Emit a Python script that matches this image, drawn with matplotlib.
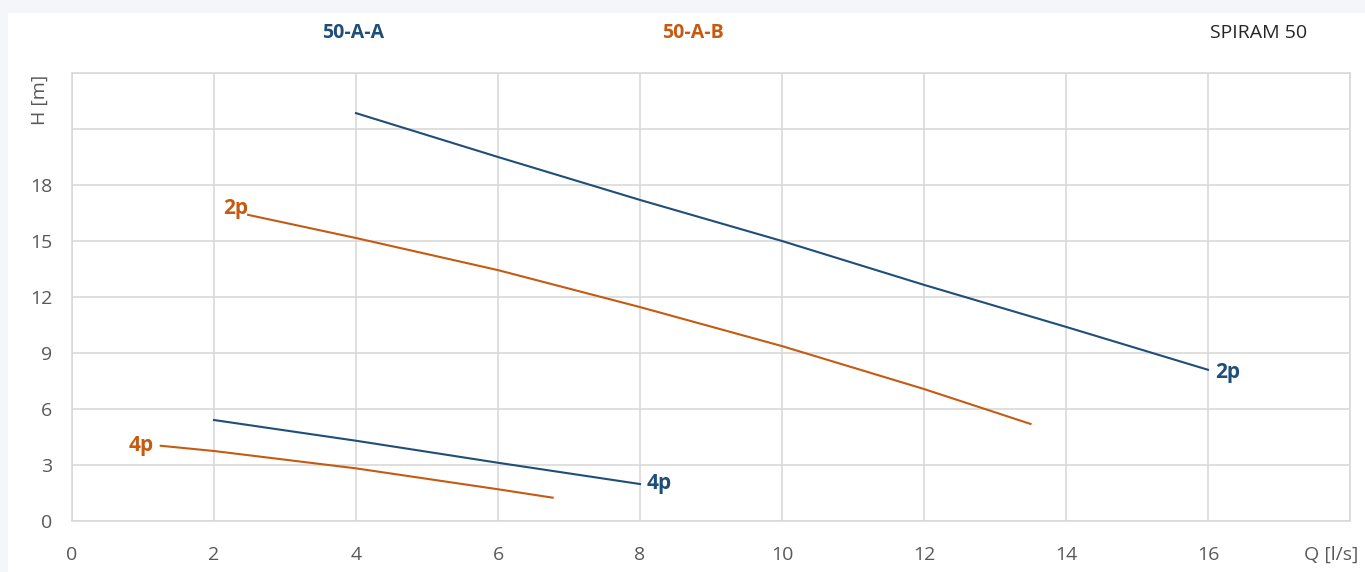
import matplotlib.pyplot as plt
from matplotlib.patches import Rectangle
from matplotlib.transforms import ScaledTranslation

plt.rcParams['font.family'] = ['Open Sans', 'DejaVu Sans']

blue = '#1F4E79'
orange = '#C55A11'

# 50-A-A (blue)
aa_2p_q = [4, 6, 8, 10, 12, 14, 16]
aa_2p_h = [21.85, 19.5, 17.2, 15.0, 12.65, 10.4, 8.1]
aa_4p_q = [2, 4, 6, 8]
aa_4p_h = [5.41, 4.3, 3.12, 1.98]

# 50-A-B (orange)
ab_2p_q = [2.48, 4, 6, 8, 10, 12, 13.5]
ab_2p_h = [16.4, 15.16, 13.44, 11.46, 9.37, 7.07, 5.2]
ab_4p_q = [1.25, 2, 4, 6, 6.77]
ab_4p_h = [4.03, 3.75, 2.82, 1.70, 1.25]

xticks = [0, 2, 4, 6, 8, 10, 12, 14, 16, 18]
xlabels = ['0', '2', '4', '6', '8', '10', '12', '14', '16', 'Q [l/s]']
yticks = [0, 3, 6, 9, 12, 15, 18, 21, 24]
ylabels = ['0', '3', '6', '9', '12', '15', '18', '', '']

fig = plt.figure(figsize=(13.65, 5.72), dpi=100, facecolor='#F4F6F9')
fig.patches.append(Rectangle((8 / 1365, 0), 1, 1 - 13 / 572, transform=fig.transFigure,
                             facecolor='white', edgecolor='none', zorder=-10))
ax = fig.add_axes([72 / 1365, 51 / 572, 1278 / 1365, 448 / 572])
ax.set_zorder(1)
ax.set_facecolor('white')

ax.plot(aa_2p_q, aa_2p_h, color=blue, lw=1.5)
ax.plot(aa_4p_q, aa_4p_h, color=blue, lw=1.5)
ax.plot(ab_2p_q, ab_2p_h, color=orange, lw=1.5)
ax.plot(ab_4p_q, ab_4p_h, color=orange, lw=1.5)

lab = dict(fontsize=15, fontweight='bold', va='center')
ax.text(aa_2p_q[-1] + 0.1, aa_2p_h[-1] - 0.15, '2p', color=blue, ha='left', **lab)
ax.text(aa_4p_q[-1] + 0.1, aa_4p_h[-1] + 0.05, '4p', color=blue, ha='left', **lab)
ax.text(ab_2p_q[0] - 0.0, ab_2p_h[0] + 0.35, '2p', color=orange, ha='right', **lab)
ax.text(ab_4p_q[0] - 0.1, ab_4p_h[0] + 0.0, '4p', color=orange, ha='right', **lab)

ax.set_xlim(0, 18)
ax.set_ylim(0, 24)
ax.set_xticks(xticks)
ax.set_xticklabels(xlabels)
ax.set_yticks(yticks)
ax.set_yticklabels(ylabels)
ax.tick_params(length=0, labelsize=14, labelcolor='#595959')
ax.tick_params(axis='x', pad=18)
ax.tick_params(axis='y', pad=14)
ax.grid(True, color='#D9D9D9', lw=1.2)
ax.set_axisbelow(True)
for s in ax.spines.values():
    s.set_color('#D9D9D9')
    s.set_linewidth(1.2)

q_lab = ax.get_xticklabels()[-1]
q_lab.set_transform(q_lab.get_transform() + ScaledTranslation(-0.19, 0, fig.dpi_scale_trans))

fig.text(40 / 1365, 1 - 100 / 572, 'H [m]', rotation=90, ha='center', va='center',
         fontsize=14, color='#595959')
fig.text(353 / 1365, 1 - 33 / 572, '50-A-A', ha='center', va='center',
         fontsize=14, fontweight='bold', color=blue)
fig.text(693 / 1365, 1 - 33 / 572, '50-A-B', ha='center', va='center',
         fontsize=14, fontweight='bold', color=orange)
fig.text(1259 / 1365, 1 - 33 / 572, 'SPIRAM 50', ha='center', va='center',
         fontsize=14, color='#262626')

fig.savefig('out.png', dpi=100, facecolor=fig.get_facecolor())
